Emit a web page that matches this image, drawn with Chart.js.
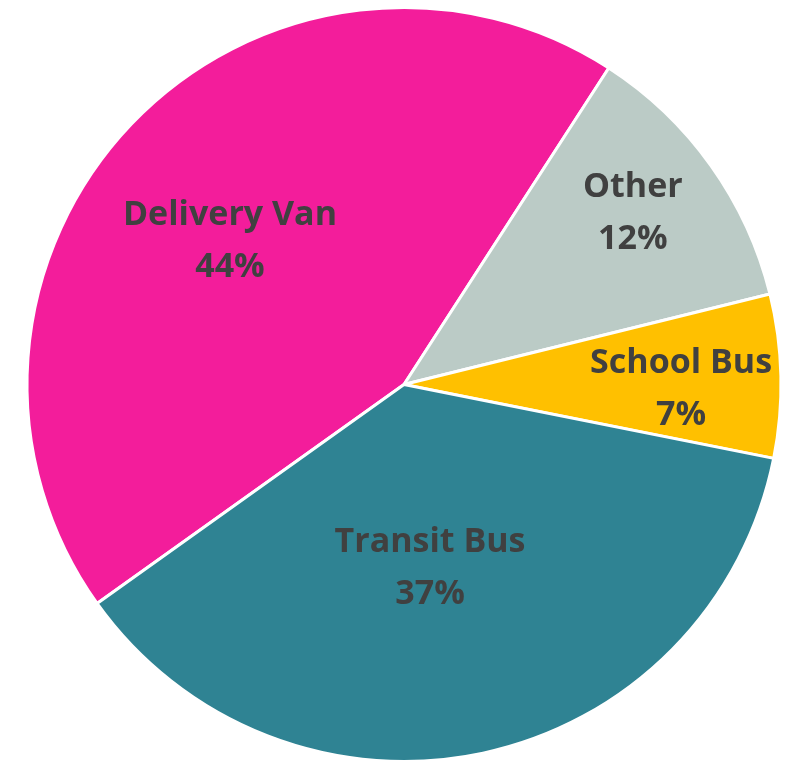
<!DOCTYPE html>
<html>
<head>
<meta charset="utf-8">
<script src="https://cdn.jsdelivr.net/npm/chart.js@4"></script>
<style>
    html, body { margin: 0; padding: 0; background: #ffffff; }
    #wrap { width: 792px; height: 763px; position: relative; }
</style>
</head>
<body>
<div id="wrap"><canvas id="pieChart"></canvas></div>
<script>
const categories = ['Delivery Van', 'Other', 'School Bus', 'Transit Bus'];
const shares = [44, 12, 7, 37];
const sliceColors = ['#F31D9B', '#BBCBC6', '#FFC000', '#2F8393'];

// where each label sits: fraction of radius, angle nudge in degrees
const labelPlacement = [
    { frac: 0.60, nudge: -4 },
    { frac: 0.76, nudge: -1.5 },
    { frac: 0.735, nudge: 2 },
    { frac: 0.49, nudge: 4 }
];

const sliceLabels = {
    id: 'sliceLabels',
    afterDatasetsDraw(chart) {
        const ctx = chart.ctx;
        const arcs = chart.getDatasetMeta(0).data;
        ctx.save();
        ctx.fillStyle = '#404040';
        ctx.font = 'bold 34px "Open Sans"';
        ctx.textAlign = 'center';
        ctx.textBaseline = 'middle';
        arcs.forEach((arc, i) => {
            const { x, y, startAngle, endAngle, outerRadius } = arc.getProps(['x', 'y', 'startAngle', 'endAngle', 'outerRadius'], true);
            const mid = (startAngle + endAngle) / 2 + labelPlacement[i].nudge * Math.PI / 180;
            const r = outerRadius * labelPlacement[i].frac;
            const cx = x + Math.cos(mid) * r;
            const cy = y + Math.sin(mid) * r;
            ctx.fillText(categories[i], cx, cy - 25);
            ctx.fillText(shares[i] + '%', cx, cy + 27);
        });
        ctx.restore();
    }
};

new Chart(document.getElementById('pieChart').getContext('2d'), {
    type: 'pie',
    data: {
        labels: categories,
        datasets: [{
            data: shares,
            backgroundColor: sliceColors,
            borderColor: '#ffffff',
            borderWidth: 3
        }]
    },
    options: {
        responsive: true,
        maintainAspectRatio: false,
        animation: false,
        rotation: -125.5,
        layout: {
            padding: { left: 24, right: 8, top: 6, bottom: 0 }
        },
        plugins: {
            legend: { display: false },
            tooltip: { enabled: false }
        }
    },
    plugins: [sliceLabels]
});
</script>
</body>
</html>
